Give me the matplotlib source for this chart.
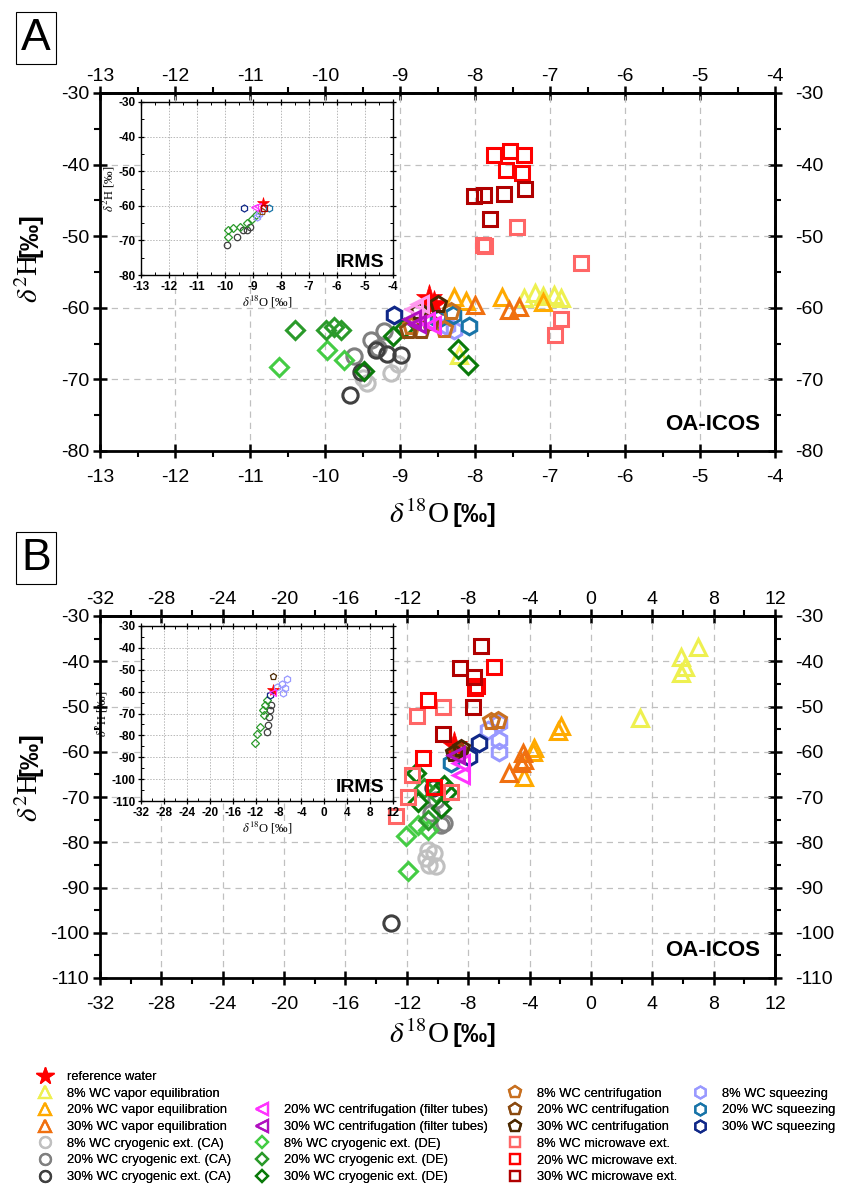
import matplotlib
matplotlib.use('Agg')
import matplotlib.pyplot as plt
from matplotlib.lines import Line2D
from matplotlib.ticker import MultipleLocator

plt.rcParams['font.family'] = ['Liberation Sans Narrow', 'Liberation Sans', 'DejaVu Sans']
plt.rcParams['mathtext.fontset'] = 'stix'
plt.rcParams['axes.unicode_minus'] = False

# ---------------- Panel A (OA-ICOS) ----------------
A_REF_X, A_REF_Y = [-8.62, -8.55], [-58.6, -59.4]
A_VAP8_X, A_VAP8_Y = [-7.35, -7.2, -7.1, -6.95, -6.85, -8.22], [-58.6, -58.0, -58.3, -58.2, -58.6, -66.6]
A_VAP20_X, A_VAP20_Y = [-8.28, -8.12, -7.64, -7.1], [-58.5, -59.0, -58.5, -59.2]
A_VAP30_X, A_VAP30_Y = [-8.0, -7.55, -7.42], [-59.6, -60.3, -59.9]
A_CA8_X, A_CA8_Y = [-9.5, -9.44, -9.12, -9.03], [-69.8, -70.5, -69.1, -67.8]
A_CA20_X, A_CA20_Y = [-9.39, -9.21, -9.61, -9.3], [-64.5, -63.3, -66.8, -65.6]
A_CA30_X, A_CA30_Y = [-9.67, -9.52, -9.32, -9.17, -8.99], [-72.2, -68.9, -65.9, -66.4, -66.6]
A_FT8_X, A_FT8_Y = [-8.82, -8.74], [-60.2, -59.4]
A_FT20_X, A_FT20_Y = [-8.66, -8.57], [-61.9, -62.4]
A_FT30_X, A_FT30_Y = [-8.77, -8.84], [-62.2, -61.5]
A_DE8_X, A_DE8_Y = [-10.62, -9.97, -9.75], [-68.3, -65.9, -67.3]
A_DE20_X, A_DE20_Y = [-10.4, -9.99, -9.79, -9.88], [-63.1, -63.1, -63.1, -62.7]
A_DE30_X, A_DE30_Y = [-9.48, -9.1, -8.23, -8.1, -8.95], [-68.8, -64.0, -65.7, -68.0, -62.8]
A_CF8_X, A_CF8_Y = [-8.32, -8.41, -8.85], [-60.5, -62.9, -62.5]
A_CF20_X, A_CF20_Y = [-8.90, -8.72, -8.6], [-63.1, -63.1, -62.0]
A_CF30_X, A_CF30_Y = [-8.49, -8.75], [-59.4, -60.5]
A_MW8_X, A_MW8_Y = [-7.44, -7.90, -7.87, -6.59, -6.86, -6.93], [-48.7, -51.2, -51.4, -53.7, -61.6, -63.8]
A_MW20_X, A_MW20_Y = [-7.75, -7.53, -7.35, -7.59, -7.38], [-38.7, -38.1, -38.6, -40.7, -41.2]
A_MW30_X, A_MW30_Y = [-8.02, -7.88, -7.62, -7.34, -7.80], [-44.4, -44.2, -44.1, -43.4, -47.6]
A_SQ8_X, A_SQ8_Y = [-8.37, -8.28], [-62.6, -63.1]
A_SQ20_X, A_SQ20_Y = [-8.30, -8.08, -8.5], [-61.0, -62.5, -61.5]
A_SQ30_X, A_SQ30_Y = [-9.08], [-61.0]

# ---------------- Panel B (OA-ICOS) ----------------
B_REF_X, B_REF_Y = [-8.9], [-58.5]
B_VAP8_X, B_VAP8_Y = [7.0, 5.87, 6.13, 5.87, 3.18], [-36.9, -39.0, -41.2, -42.6, -52.6]
B_VAP20_X, B_VAP20_Y = [-1.93, -2.15, -3.69, -3.79, -4.34], [-54.4, -55.5, -59.2, -60.0, -65.5]
B_VAP30_X, B_VAP30_Y = [-4.45, -4.34, -4.55, -5.31], [-60.3, -61.8, -62.5, -64.7]
B_CA8_X, B_CA8_Y = [-10.65, -10.22, -10.1, -10.54, -10.76], [-81.7, -82.4, -85.3, -85.0, -83.5]
B_CA20_X, B_CA20_Y = [-9.57, -10.1, -10.43, -9.8], [-75.8, -70.6, -73.6, -76.2]
B_CA30_X, B_CA30_Y = [-13.05, -10.3], [-97.8, -68.0]
B_FT20_X, B_FT20_Y = [-8.47, -8.47], [-62.5, -65.1]
B_FT30_X, B_FT30_Y = [-8.80], [-60.7]
B_DE8_X, B_DE8_Y = [-12.07, -11.95, -11.3, -10.65], [-78.7, -86.4, -76.1, -77.2]
B_DE20_X, B_DE20_Y = [-10.87, -10.1, -10.65], [-68.0, -69.1, -75.0]
B_DE30_X, B_DE30_Y = [-11.41, -11.3, -9.78, -9.57, -9.35], [-64.7, -71.0, -72.5, -67.3, -68.8]
B_CF8_X, B_CF8_Y = [-6.51, -6.08], [-53.3, -53.0]
B_CF20_X, B_CF20_Y = [-8.6], [-59.8]
B_CF30_X, B_CF30_Y = [-8.47, -8.9], [-59.2, -60.2]
B_MW8_X, B_MW8_Y = [-9.67, -11.35, -11.63, -11.95, -12.72, -9.12], [-50.2, -52.2, -65.1, -69.9, -74.3, -68.8]
B_MW20_X, B_MW20_Y = [-6.34, -7.54, -10.65, -10.93, -10.22, -7.4], [-41.2, -46.0, -48.5, -61.3, -67.7, -45.5]
B_MW30_X, B_MW30_Y = [-7.16, -8.54, -7.65, -7.71, -9.63], [-36.6, -41.5, -43.4, -50.0, -56.1]
B_SQ8_X, B_SQ8_Y = [-6.73, -5.97, -5.97, -5.97], [-55.2, -53.7, -57.4, -60.0]
B_SQ20_X, B_SQ20_Y = [-9.12], [-62.5]
B_SQ30_X, B_SQ30_Y = [-7.27, -7.93], [-58.1, -61.1]

# ---------------- Inset A (IRMS) ----------------
IA_REF_X, IA_REF_Y = [-8.65], [-59.3]
IA_SQ30_X, IA_SQ30_Y = [-9.31], [-60.5]
IA_SQ20_X, IA_SQ20_Y = [-8.42], [-60.5]
IA_FT_X, IA_FT_Y = [-8.95, -8.85], [-60.3, -60.0]
IA_CF_X, IA_CF_Y = [-8.69], [-61.5]
IA_SQ8_X, IA_SQ8_Y = [-8.87, -8.8], [-63.2, -62.5]
IA_DE_X, IA_DE_Y = [-8.89, -9.04, -9.22, -9.46, -9.7, -9.88, -9.88], [-62.7, -63.7, -65.1, -66.1, -66.3, -67.1, -69.0]
IA_CA_X, IA_CA_Y = [-9.94, -9.58, -9.34, -9.1, -9.2], [-71.2, -69.0, -67.1, -66.1, -66.9]
IA_MW_X, IA_MW_Y = [-8.6], [-60.5]

# ---------------- Inset B (IRMS) ----------------
IB_CF_X, IB_CF_Y = [-8.9], [-52.9]
IB_SQ8_X, IB_SQ8_Y = [-6.58, -7.45, -6.87, -7.16, -8.3], [-54.4, -56.6, -58.5, -60.8, -57.7]
IB_REF_X, IB_REF_Y = [-9.0], [-59.3]
IB_FT_X, IB_FT_Y = [-9.2], [-60.0]
IB_SQ30_X, IB_SQ30_Y = [-9.48], [-61.6]
IB_DE_X, IB_DE_Y = [-10.06, -10.35, -10.64, -10.47, -11.22, -11.8, -12.09], [-63.9, -66.2, -68.5, -70.8, -76.1, -79.2, -83.7]
IB_CA_X, IB_CA_Y = [-9.48, -9.6, -9.77, -10.06, -9.3], [-68.5, -71.5, -75.3, -78.4, -66.0]

# ---------------- styles ----------------
STY = {
    'ref':   ('reference water', '*', '#ff0000'),
    'vap8':  ('8% WC vapor equilibration', '^', '#eef050'),
    'vap20': ('20% WC vapor equilibration', '^', '#ffaa00'),
    'vap30': ('30% WC vapor equilibration', '^', '#f07010'),
    'ca8':   ('8% WC cryogenic ext. (CA)', 'o', '#c0c0c0'),
    'ca20':  ('20% WC cryogenic ext. (CA)', 'o', '#808080'),
    'ca30':  ('30% WC cryogenic ext. (CA)', 'o', '#404040'),
    'ft8':   ('', '<', '#ff99ee'),
    'ft20':  ('20% WC centrifugation (filter tubes)', '<', '#ff33ff'),
    'ft30':  ('30% WC centrifugation (filter tubes)', '<', '#b010c0'),
    'de8':   ('8% WC cryogenic ext. (DE)', 'D', '#44cc44'),
    'de20':  ('20% WC cryogenic ext. (DE)', 'D', '#2a9a2a'),
    'de30':  ('30% WC cryogenic ext. (DE)', 'D', '#0a7a0a'),
    'cf8':   ('8% WC centrifugation', 'p', '#c87020'),
    'cf20':  ('20% WC centrifugation', 'p', '#8b4a10'),
    'cf30':  ('30% WC centrifugation', 'p', '#4a2800'),
    'mw8':   ('8% WC microwave ext.', 's', '#ff6666'),
    'mw20':  ('20% WC microwave ext.', 's', '#ff0000'),
    'mw30':  ('30% WC microwave ext.', 's', '#b00000'),
    'sq8':   ('8% WC squeezing', 'h', '#9999ff'),
    'sq20':  ('20% WC squeezing', 'h', '#1874a8'),
    'sq30':  ('30% WC squeezing', 'h', '#102888'),
}
MS = {'*': 20, '^': 12, 'o': 11, '<': 12, 'D': 9, 'p': 12, 's': 10, 'h': 12}

A_DATA = [('ref', A_REF_X, A_REF_Y), ('vap8', A_VAP8_X, A_VAP8_Y), ('vap20', A_VAP20_X, A_VAP20_Y),
          ('vap30', A_VAP30_X, A_VAP30_Y), ('ca8', A_CA8_X, A_CA8_Y), ('ca20', A_CA20_X, A_CA20_Y),
          ('ca30', A_CA30_X, A_CA30_Y), ('de8', A_DE8_X, A_DE8_Y), ('de20', A_DE20_X, A_DE20_Y),
          ('de30', A_DE30_X, A_DE30_Y), ('mw8', A_MW8_X, A_MW8_Y), ('mw20', A_MW20_X, A_MW20_Y),
          ('mw30', A_MW30_X, A_MW30_Y), ('sq8', A_SQ8_X, A_SQ8_Y), ('sq20', A_SQ20_X, A_SQ20_Y),
          ('sq30', A_SQ30_X, A_SQ30_Y), ('cf8', A_CF8_X, A_CF8_Y), ('cf20', A_CF20_X, A_CF20_Y),
          ('cf30', A_CF30_X, A_CF30_Y), ('ft8', A_FT8_X, A_FT8_Y), ('ft20', A_FT20_X, A_FT20_Y),
          ('ft30', A_FT30_X, A_FT30_Y)]
B_DATA = [('ref', B_REF_X, B_REF_Y), ('vap8', B_VAP8_X, B_VAP8_Y), ('vap20', B_VAP20_X, B_VAP20_Y),
          ('vap30', B_VAP30_X, B_VAP30_Y), ('ca8', B_CA8_X, B_CA8_Y), ('ca20', B_CA20_X, B_CA20_Y),
          ('ca30', B_CA30_X, B_CA30_Y), ('de8', B_DE8_X, B_DE8_Y), ('de20', B_DE20_X, B_DE20_Y),
          ('de30', B_DE30_X, B_DE30_Y), ('mw8', B_MW8_X, B_MW8_Y), ('mw20', B_MW20_X, B_MW20_Y),
          ('mw30', B_MW30_X, B_MW30_Y), ('sq8', B_SQ8_X, B_SQ8_Y), ('sq20', B_SQ20_X, B_SQ20_Y),
          ('sq30', B_SQ30_X, B_SQ30_Y), ('cf8', B_CF8_X, B_CF8_Y), ('cf20', B_CF20_X, B_CF20_Y),
          ('cf30', B_CF30_X, B_CF30_Y), ('ft20', B_FT20_X, B_FT20_Y), ('ft30', B_FT30_X, B_FT30_Y)]
IA_DATA = [('ca30', IA_CA_X, IA_CA_Y), ('de20', IA_DE_X, IA_DE_Y), ('sq8', IA_SQ8_X, IA_SQ8_Y),
           ('cf20', IA_CF_X, IA_CF_Y), ('ft20', IA_FT_X, IA_FT_Y), ('sq30', IA_SQ30_X, IA_SQ30_Y),
           ('sq20', IA_SQ20_X, IA_SQ20_Y), ('mw30', IA_MW_X, IA_MW_Y), ('ref', IA_REF_X, IA_REF_Y)]
IB_DATA = [('ca30', IB_CA_X, IB_CA_Y), ('de20', IB_DE_X, IB_DE_Y), ('sq8', IB_SQ8_X, IB_SQ8_Y),
           ('cf30', IB_CF_X, IB_CF_Y), ('sq30', IB_SQ30_X, IB_SQ30_Y), ('ref', IB_REF_X, IB_REF_Y),
           ('ft20', IB_FT_X, IB_FT_Y)]

W, H = 844, 1184
fig = plt.figure(figsize=(W / 100, H / 100), dpi=100)


def fx(p):
    return p / W


def fy(p):
    return 1 - p / H


def draw_series(ax, data, scale=1.0, mew=2.2):
    for key, xs, ys in data:
        lab, mk, col = STY[key]
        if mk == '*':
            ax.plot(xs, ys, ls='none', marker=mk, ms=MS[mk] * scale, mfc=col, mec=col, mew=0.5, zorder=2)
        else:
            ax.plot(xs, ys, ls='none', marker=mk, ms=MS[mk] * scale, mfc='none', mec=col, mew=mew, zorder=3)


def style_main(ax, xlim, ylim, xmaj, xmin, ymaj, ymin):
    ax.set_xlim(*xlim)
    ax.set_ylim(*ylim)
    ax.xaxis.set_major_locator(MultipleLocator(xmaj))
    ax.xaxis.set_minor_locator(MultipleLocator(xmin))
    ax.yaxis.set_major_locator(MultipleLocator(ymaj))
    ax.yaxis.set_minor_locator(MultipleLocator(ymin))
    ax.tick_params(which='major', direction='inout', length=9.5, width=1.8, labelsize=14)
    ax.tick_params(which='minor', direction='out', length=4.5, width=1.5)
    ax.tick_params(axis='x', which='major', pad=8)
    ax.tick_params(axis='y', which='major', pad=3)
    for s in ax.spines.values():
        s.set_linewidth(2)
    ax.grid(True, which='major', color='#c0c0c0', ls=(0, (5, 4)), lw=0.9)
    ax.set_axisbelow(True)
    top = ax.secondary_xaxis('top')
    top.xaxis.set_major_locator(MultipleLocator(xmaj))
    top.xaxis.set_minor_locator(MultipleLocator(xmin))
    top.tick_params(which='major', direction='inout', length=9.5, width=1.8, labelsize=14, pad=1)
    top.tick_params(which='minor', direction='out', length=4.5, width=1.5)
    top.spines['top'].set_linewidth(2)
    top.xaxis.get_offset_text().set_visible(False)
    right = ax.secondary_yaxis('right')
    right.yaxis.set_major_locator(MultipleLocator(ymaj))
    right.yaxis.set_minor_locator(MultipleLocator(ymin))
    right.tick_params(which='major', direction='inout', length=9.5, width=1.8, labelsize=14, pad=10)
    right.tick_params(which='minor', direction='out', length=4.5, width=1.5)
    right.spines['right'].set_linewidth(2)
    right.yaxis.get_offset_text().set_visible(False)


def style_inset(ax, xlim, ylim, xmaj, xmin, ymaj, ymin):
    ax.set_xlim(*xlim)
    ax.set_ylim(*ylim)
    ax.xaxis.set_major_locator(MultipleLocator(xmaj))
    ax.xaxis.set_minor_locator(MultipleLocator(xmin))
    ax.yaxis.set_major_locator(MultipleLocator(ymaj))
    ax.yaxis.set_minor_locator(MultipleLocator(ymin))
    ax.tick_params(which='major', direction='inout', length=5, width=0.9, labelsize=8.5,
                   top=True, right=True, pad=1.5)
    ax.tick_params(which='minor', direction='in', length=2.5, width=0.7, top=True, right=True)
    for lab in ax.get_xticklabels() + ax.get_yticklabels():
        lab.set_fontweight('bold')
    for s in ax.spines.values():
        s.set_linewidth(1.0)
    ax.grid(True, which='major', color='#b8b8b8', ls=(0, (1.5, 1.5)), lw=0.7)
    ax.set_axisbelow(True)
    ax.set_xlabel(r'$\delta^{18}$O [‰]', family='Liberation Serif', fontsize=9, labelpad=1)
    ax.set_ylabel(r'$\delta^{2}$H [‰]', family='Liberation Serif', fontsize=9, labelpad=1)
    ax.text(0.965, 0.075, 'IRMS', transform=ax.transAxes, ha='right', va='center',
            fontsize=14, fontweight='bold', family='Liberation Sans')


# ---------- Panel A ----------
axA = fig.add_axes([fx(100), fy(451), fx(775) - fx(100), fy(93) - fy(451)])
style_main(axA, (-13, -4), (-80, -30), 1, 0.5, 10, 5)
draw_series(axA, A_DATA)
axA.text(0.978, 0.073, 'OA-ICOS', transform=axA.transAxes, ha='right', va='center',
         fontsize=16, fontweight='bold', family='Liberation Sans')

iA = fig.add_axes([fx(141), fy(275), fx(393) - fx(141), fy(102) - fy(275)])
style_inset(iA, (-13, -4), (-80, -30), 1, 0.5, 10, 5)
draw_series(iA, IA_DATA, scale=0.42, mew=0.9)

# ---------- Panel B ----------
axB = fig.add_axes([fx(100), fy(978), fx(775) - fx(100), fy(616) - fy(978)])
style_main(axB, (-32, 12), (-110, -30), 4, 2, 10, 5)
draw_series(axB, B_DATA)
axB.text(0.978, 0.075, 'OA-ICOS', transform=axB.transAxes, ha='right', va='center',
         fontsize=16, fontweight='bold', family='Liberation Sans')

iB = fig.add_axes([fx(141), fy(801), fx(393) - fx(141), fy(626) - fy(801)])
style_inset(iB, (-32, 12), (-110, -30), 4, 2, 10, 5)
draw_series(iB, IB_DATA, scale=0.42, mew=0.9)

# ---------- axis labels ----------
for xl_y, yl_split in [(515, 253), (1035, 772)]:
    fig.text(fx(449), fy(xl_y), r'$\delta^{18}$O', ha='right', va='center',
             fontsize=21, family='Liberation Serif')
    fig.text(fx(453), fy(xl_y), '[‰]', ha='left', va='center',
             fontsize=19, family='Liberation Sans', fontweight='bold')
    fig.text(fx(30), fy(yl_split), r'$\delta^{2}$H', ha='center', va='top',
             fontsize=21, family='Liberation Serif', rotation=90)
    fig.text(fx(30), fy(yl_split + 4), '[‰]', ha='center', va='bottom',
             fontsize=19, family='Liberation Sans', fontweight='bold', rotation=90)

# ---------- panel letters ----------
for letter, yc in [('A', 38), ('B', 558)]:
    fig.text(fx(36), fy(yc), letter, ha='center', va='center', fontsize=32,
             family='Liberation Sans',
             bbox=dict(boxstyle='square,pad=0.12', fc='white', ec='black', lw=0.8))

# ---------- legend (four columns) ----------
def handle(key):
    lab, mk, col = STY[key]
    if mk == '*':
        return Line2D([], [], ls='none', marker=mk, ms=13, mfc=col, mec=col)
    return Line2D([], [], ls='none', marker=mk, ms=MS[mk] * 0.72, mfc='none', mec=col, mew=1.6)


cols = [
    (35, ['ref', 'vap8', 'vap20', 'vap30', 'ca8', 'ca20', 'ca30']),
    (252, [None, None, 'ft20', 'ft30', 'de8', 'de20', 'de30']),
    (505, [None, 'cf8', 'cf20', 'cf30', 'mw8', 'mw20', 'mw30']),
    (690, [None, 'sq8', 'sq20', 'sq30', None, None, None]),
]
for x0, keys in cols:
    handles, labels = [], []
    for k in keys:
        if k is None:
            handles.append(Line2D([], [], ls='none'))
            labels.append(' ')
        else:
            handles.append(handle(k))
            labels.append(STY[k][0])
    leg = fig.legend(handles, labels, loc='upper left', bbox_to_anchor=(fx(x0), fy(1071)),
                     frameon=False, fontsize=9.3, handletextpad=0.95, labelspacing=0.36,
                     borderpad=0, borderaxespad=0, handlelength=1.5)
    fig.add_artist(leg)

fig.savefig('out.png', dpi=100)
